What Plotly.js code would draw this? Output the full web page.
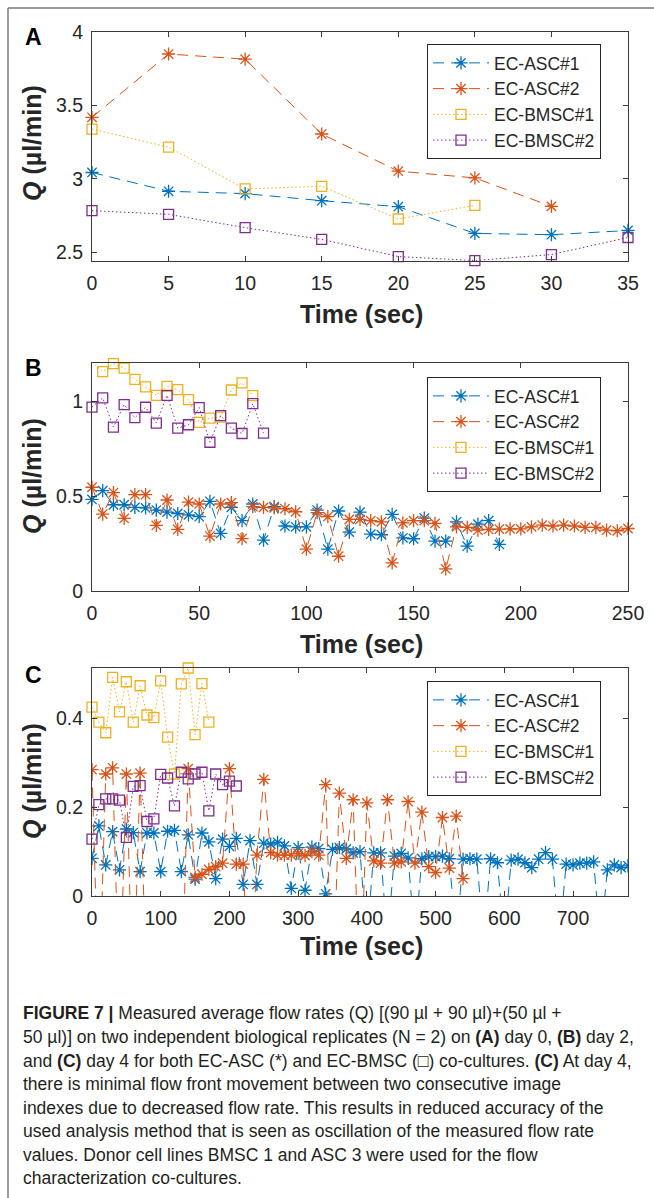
<!DOCTYPE html>
<html>
<head>
<meta charset="utf-8">
<script src="https://cdn.plot.ly/plotly-3.0.1.min.js"></script>
<style>
html,body{margin:0;padding:0;background:#fff;}
#chart{width:654px;height:1198px;}
</style>
</head>
<body>
<div id="chart"></div>
<script>
// ---------- Panel A (day 0) ----------
const tA_asc1 = [0, 5, 10, 15, 20, 25, 30, 35];
const qA_asc1 = [3.043, 2.915, 2.899, 2.851, 2.81, 2.628, 2.619, 2.648];
const tA_asc2 = [0, 5, 10, 15, 20, 25, 30];
const qA_asc2 = [3.419, 3.85, 3.815, 3.305, 3.052, 3.006, 2.812];
const tA_bm1 = [0, 5, 10, 15, 20, 25];
const qA_bm1 = [3.339, 3.216, 2.931, 2.949, 2.726, 2.819];
const tA_bm2 = [0, 5, 10, 15, 20, 25, 30, 35];
const qA_bm2 = [2.783, 2.758, 2.667, 2.587, 2.47, 2.443, 2.484, 2.60];

// ---------- Panel B (day 2) ----------
const tB_asc1 = [0,5,10,15,20,25,30,35,40,45,50,55,60,65,70,75,80,85,90,95,100,105,110,115,120,125,130,135,140,145,150,155,160,165,170,175,180,185,190];
const qB_asc1 = [0.482,0.528,0.454,0.454,0.44,0.437,0.426,0.415,0.408,0.401,0.391,0.472,0.303,0.44,0.37,0.458,0.268,0.444,0.342,0.338,0.338,0.426,0.22,0.421,0.31,0.415,0.299,0.296,0.403,0.28,0.275,0.384,0.262,0.262,0.364,0.236,0.352,0.37,0.245];
const tB_asc2 = [0,5,10,15,20,25,30,35,40,45,50,55,60,65,70,75,80,85,90,95,100,105,110,115,120,125,130,135,140,145,150,155,160,165,170,175,180,185,190,195,200,205,210,215,220,225,230,235,240,245,250];
const qB_asc2 = [0.546,0.405,0.518,0.382,0.507,0.507,0.345,0.479,0.324,0.468,0.458,0.289,0.458,0.465,0.276,0.444,0.44,0.437,0.433,0.417,0.22,0.412,0.391,0.183,0.377,0.377,0.37,0.364,0.148,0.359,0.37,0.37,0.356,0.116,0.338,0.335,0.32,0.324,0.326,0.327,0.327,0.338,0.347,0.342,0.347,0.342,0.335,0.335,0.32,0.317,0.329];
const tB_bm1 = [0,5,10,15,20,25,30,35,40,45,50,55,60,65,70,75];
const qB_bm1 = [1.206,1.155,1.197,1.173,1.114,1.074,1.03,1.077,1.06,1.007,0.887,0.91,0.915,1.058,1.095,1.028];
const tB_bm2 = [0,5,10,15,20,25,30,35,40,45,50,55,60,65,70,75,80];
const qB_bm2 = [0.968,1.016,0.863,0.981,0.912,0.967,0.884,1.03,0.857,0.875,0.965,0.783,0.923,0.857,0.829,0.986,0.831];

// ---------- Panel C (day 4) ----------
const tC_asc1 = [0,10,20,30,40,50,60,70,80,90,100,110,120,130,140,150,160,170,180,190,200,210,220,230,240,250,260,270,280,290,300,310,320,330,340,350,360,370,380,390,400,410,420,430,440,450,460,470,480,490,500,510,520,530,540,550,560,570,580,590,600,610,620,630,640,650,660,670,680,690,700,710,720,730,740,750,760,770,780];
const qC_asc1 = [0.085,0.158,0.07,0.145,0.059,0.151,0.143,0.055,0.142,0.142,0.055,0.146,0.148,0.055,0.138,0.038,0.142,0.122,0.039,0.128,0.112,0.13,0.026,0.125,0.026,0.119,0.117,0.121,0.113,0.017,0.109,0.013,0.11,0.107,0.005,0.105,0.109,0.106,0.097,0.1,-0.1,0.097,0.097,-0.1,0.09,0.096,0.086,-0.1,0.084,0.089,0.089,0.09,0.084,-0.1,0.083,0.084,0.083,-0.1,0.084,0.075,-0.1,0.081,0.083,0.075,0.064,0.083,0.098,0.083,-0.1,0.072,0.07,0.074,0.074,0.077,-0.1,0.059,0.07,0.064,0.068];
const tC_asc2 = [0,10,20,30,40,50,60,70,80,90,100,110,120,130,140,150,160,170,180,190,200,210,220,230,240,250,260,270,280,290,300,310,320,330,340,350,360,370,380,390,400,410,420,430,440,450,460,470,480,490,500,510,520,530,540];
const qC_asc2 = [0.285,-0.25,0.275,0.289,-0.25,0.275,-0.25,0.277,-0.25,-0.25,-0.25,-0.25,-0.25,-0.25,0.287,0.042,0.049,0.06,0.066,0.074,0.287,0.072,0.072,-0.25,0.092,0.263,0.098,0.092,0.092,0.092,0.096,0.091,0.1,0.092,0.251,-0.25,0.232,0.085,0.217,-0.25,0.21,0.079,0.074,0.217,0.074,0.077,0.213,0.074,0.189,0.066,0.053,0.177,0.063,0.18,0.039];
const tC_bm1 = [0,10,20,30,40,50,60,70,80,90,100,110,120,130,140,150,160,170];
const qC_bm1 = [0.426,0.392,0.368,0.493,0.415,0.483,0.392,0.474,0.408,0.402,0.485,0.358,0.275,0.478,0.514,0.364,0.479,0.392];
const tC_bm2 = [0,10,20,30,40,50,60,70,80,90,100,110,120,130,140,150,160,170,180,190,200,210];
const qC_bm2 = [0.128,0.206,0.219,0.219,0.216,0.132,0.247,0.249,0.168,0.174,0.274,0.266,0.203,0.279,0.264,0.275,0.279,0.192,0.275,0.251,0.259,0.248];

const seriesNames = ['EC-ASC#1', 'EC-ASC#2', 'EC-BMSC#1', 'EC-BMSC#2'];
const xTicksA = [0, 5, 10, 15, 20, 25, 30, 35];
const yTicksA = [2.5, 3, 3.5, 4];
const yTickTextA = ['2.5', '3', '3.5', '4'];
const xTicksB = [0, 50, 100, 150, 200, 250];
const yTicksB = [0, 0.5, 1];
const yTickTextB = ['0', '0.5', '1'];
const xTicksC = [0, 100, 200, 300, 400, 500, 600, 700];
const yTicksC = [0, 0.2, 0.4];
const yTickTextC = ['0', '0.2', '0.4'];

// ---------- styling ----------
const W = 654, H = 1198;
const COLORS = ['#0072BD', '#D95319', '#EDB120', '#7E2F8E'];
const FONT = 'Liberation Sans, Arial, Helvetica, sans-serif';
const px = v => v / W;
const py = v => 1 - v / H;

function mk(i, x, y, ax, leg, clip) {
  const isAsc = i < 2;
  return {
    type: 'scatter', mode: 'lines+markers', name: seriesNames[i],
    x: x, y: y, xaxis: ax[0], yaxis: ax[1], legend: leg,
    cliponaxis: clip,
    line: { color: COLORS[i], width: 1, dash: isAsc ? '11px,7px' : '1.5px,2.5px' },
    marker: isAsc
      ? { symbol: 'asterisk-open', size: 11, color: COLORS[i], line: { color: COLORS[i], width: 1.3 } }
      : { symbol: 'square-open', size: 10, color: COLORS[i], line: { color: COLORS[i], width: 1.3 } }
  };
}

const data = [
  mk(0, tA_asc1, qA_asc1, ['x', 'y'], 'legend', false),
  mk(1, tA_asc2, qA_asc2, ['x', 'y'], 'legend', false),
  mk(2, tA_bm1, qA_bm1, ['x', 'y'], 'legend', false),
  mk(3, tA_bm2, qA_bm2, ['x', 'y'], 'legend', false),
  mk(0, tB_asc1, qB_asc1, ['x2', 'y2'], 'legend2', false),
  mk(1, tB_asc2, qB_asc2, ['x2', 'y2'], 'legend2', false),
  mk(2, tB_bm1, qB_bm1, ['x2', 'y2'], 'legend2', false),
  mk(3, tB_bm2, qB_bm2, ['x2', 'y2'], 'legend2', false),
  mk(0, tC_asc1, qC_asc1, ['x3', 'y3'], 'legend3', true),
  mk(1, tC_asc2, qC_asc2, ['x3', 'y3'], 'legend3', true),
  mk(2, tC_bm1, qC_bm1, ['x3', 'y3'], 'legend3', false),
  mk(3, tC_bm2, qC_bm2, ['x3', 'y3'], 'legend3', false)
];

const axCommon = {
  showgrid: false, zeroline: false, showline: true, mirror: 'ticks',
  ticks: 'inside', ticklen: 5, tickwidth: 1, tickcolor: '#3a3a3a',
  linecolor: '#3a3a3a', linewidth: 1,
  tickfont: { family: FONT, size: 19.5, color: '#262626' }
};
const xdom = [px(92), px(628)];
function xa(anchor, range, tv) {
  return Object.assign({}, axCommon, { domain: xdom, anchor: anchor, range: range, tickmode: 'array', tickvals: tv, ticktext: tv.map(String), ticklabelstandoff: 5 });
}
function ya(anchor, dom, range, tv, tt) {
  return Object.assign({}, axCommon, { domain: dom, anchor: anchor, range: range, tickmode: 'array', tickvals: tv, ticktext: tt, ticklabelstandoff: 4 });
}

function legendAt(topPx) {
  return {
    x: px(427), y: py(topPx), xanchor: 'left', yanchor: 'top',
    bgcolor: '#ffffff', bordercolor: '#262626', borderwidth: 1,
    font: { family: FONT, size: 17.5, color: '#262626' },
    itemwidth: 56, tracegroupgap: 0, traceorder: 'normal'
  };
}

const titleFont = { family: FONT, size: 25, color: '#262626' };
function ann(text, x, y, opts) {
  return Object.assign({ text: text, xref: 'paper', yref: 'paper', x: px(x), y: py(y), showarrow: false, xanchor: 'center', yanchor: 'middle', font: titleFont }, opts || {});
}

const yTitle = '<b><i>Q</i> (µl/min)</b>';
const xTitle = '<b>Time (sec)</b>';
const letterFont = { family: FONT, size: 23, color: '#000000' };
const capFont = { family: 'Liberation Sans Narrow, Arial Narrow, Liberation Sans, sans-serif', size: 17.5, color: '#231f20' };
const captionLines = [
  '<b>FIGURE 7 |</b> Measured average flow rates (Q) [(90 µl + 90 µl)+(50 µl +',
  '50 µl)] on two independent biological replicates (N = 2) on <b>(A)</b> day 0, <b>(B)</b> day 2,',
  'and <b>(C)</b> day 4 for both EC-ASC (*) and EC-BMSC (□) co-cultures. <b>(C)</b> At day 4,',
  'there is minimal flow front movement between two consecutive image',
  'indexes due to decreased flow rate. This results in reduced accuracy of the',
  'used analysis method that is seen as oscillation of the measured flow rate',
  'values. Donor cell lines BMSC 1 and ASC 3 were used for the flow',
  'characterization co-cultures.'
];
const captionY = [1013, 1037, 1061, 1084, 1108, 1131, 1155, 1178];

const annotations = [
  ann('<b>A</b>', 33, 37, { font: letterFont }),
  ann('<b>B</b>', 33, 368, { font: letterFont }),
  ann('<b>C</b>', 33, 675, { font: letterFont }),
  ann(xTitle, 361, 314),
  ann(xTitle, 361, 644),
  ann(xTitle, 361, 946),
  ann(yTitle, 32, 143, { textangle: -90 }),
  ann(yTitle, 32, 476, { textangle: -90 }),
  ann(yTitle, 32, 781, { textangle: -90 })
];
captionLines.forEach((t, i) => {
  annotations.push(ann(t, 21, captionY[i], { xanchor: 'left', font: capFont }));
});

const layout = {
  width: W, height: H,
  margin: { l: 0, r: 0, t: 0, b: 0 },
  paper_bgcolor: '#ffffff', plot_bgcolor: '#ffffff',
  font: { family: FONT, color: '#262626' },
  showlegend: true,
  xaxis: xa('y', [0, 35], xTicksA),
  yaxis: ya('x', [py(261), py(32)], [2.44, 4], yTicksA, yTickTextA),
  xaxis2: xa('y2', [0, 250], xTicksB),
  yaxis2: ya('x2', [py(591), py(363)], [0, 1.2], yTicksB, yTickTextB),
  xaxis3: xa('y3', [0, 780], xTicksC),
  yaxis3: ya('x3', [py(896), py(668)], [0, 0.514], yTicksC, yTickTextC),
  legend: legendAt(44),
  legend2: legendAt(377),
  legend3: legendAt(681),
  annotations: annotations,
  shapes: [
    { type: 'line', xref: 'paper', yref: 'paper', x0: px(8), x1: 1, y0: py(8), y1: py(8), line: { color: '#7a7a7a', width: 1.5 } },
    { type: 'line', xref: 'paper', yref: 'paper', x0: px(8), x1: px(8), y0: py(8), y1: 0, line: { color: '#7a7a7a', width: 1.5 } }
  ]
};

Plotly.newPlot('chart', data, layout, { staticPlot: true, displayModeBar: false });
</script>
</body>
</html>
